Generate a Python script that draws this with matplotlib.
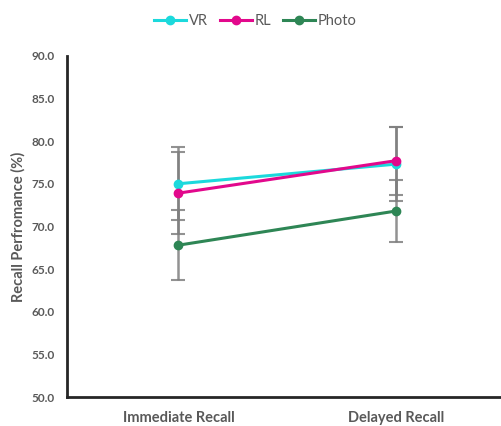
import matplotlib
matplotlib.use("Agg")
import matplotlib.pyplot as plt

plt.rcParams["font.family"] = ["Lato", "DejaVu Sans"]

categories = ["Immediate Recall", "Delayed Recall"]
series = ["VR", "RL", "Photo"]
means = {
    "VR": [75.0, 77.3],
    "RL": [73.9, 77.7],
    "Photo": [67.8, 71.8],
}
errors = {
    "VR": [4.3, 4.3],
    "RL": [4.8, 4.0],
    "Photo": [4.1, 3.6],
}
colors = {"VR": "#1CD9DC", "RL": "#E2088C", "Photo": "#2E8655"}
yticks = [50.0, 55.0, 60.0, 65.0, 70.0, 75.0, 80.0, 85.0, 90.0]

grey = "#595959"
fig = plt.figure(figsize=(5.01, 4.26), dpi=100)
ax = fig.add_axes([0.134, 0.068, 0.864, 0.801])

x = list(range(len(categories)))
for s in series:
    ax.errorbar(x, means[s], yerr=errors[s], fmt="none", ecolor="#7F7F7F",
                elinewidth=1.8, capsize=5, capthick=1.5, alpha=0.85, zorder=2)
for s in series:
    ax.plot(x, means[s], "-o", color=colors[s], lw=2.2, ms=6, label=s, zorder=3)

ax.set_xlim(-0.512, 1.48)
ax.set_ylim(50, 90)
ax.set_yticks(yticks)
ax.set_yticklabels([f"{v:.1f}" for v in yticks], fontsize=8.5, fontweight="bold", color=grey)
ax.set_xticks(x)
ax.set_xticklabels(categories, fontsize=10.5, fontweight="bold", color=grey)
ax.tick_params(length=0, pad=9)
ax.tick_params(axis="x", pad=10)
ax.set_ylabel("Recall Perfromance (%)", fontsize=10.5, fontweight="bold", color=grey, labelpad=4)
for sp in ["top", "right"]:
    ax.spines[sp].set_visible(False)
for sp in ["left", "bottom"]:
    ax.spines[sp].set_color("#262626")
    ax.spines[sp].set_linewidth(2)

fig.legend(loc="upper center", bbox_to_anchor=(0.51, 0.997), ncol=3, frameon=False,
           fontsize=10.5, labelcolor=grey, handlelength=2.2, columnspacing=0.8,
           handletextpad=0.2)

fig.savefig("out.png", dpi=100)
